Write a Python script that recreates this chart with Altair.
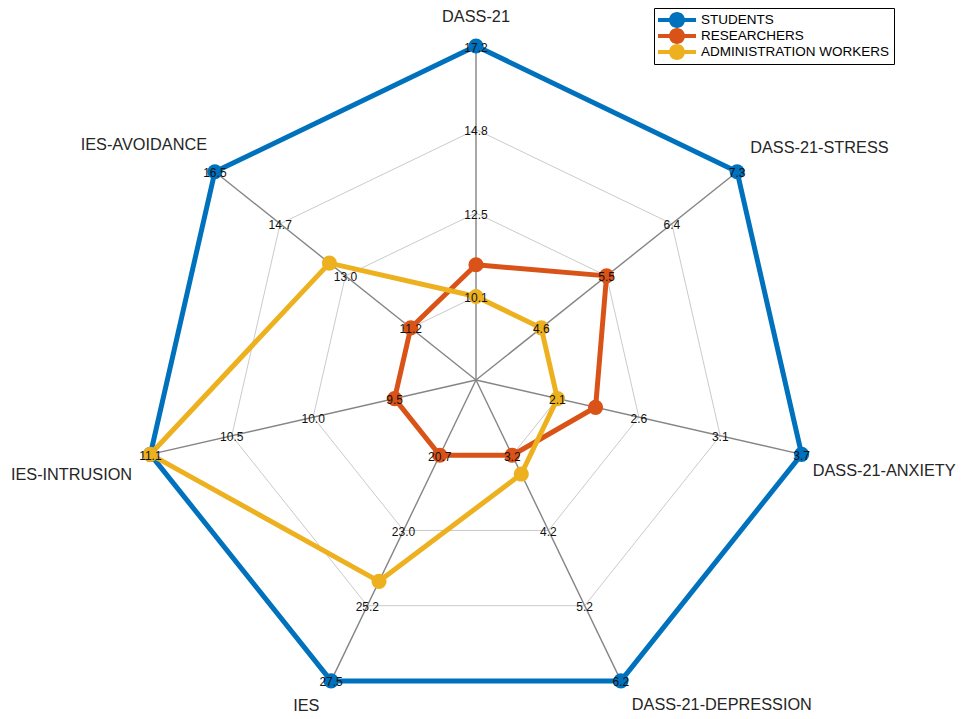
import math
import altair as alt
import pandas as pd

# ---------------- data ----------------
axis_names = ["DASS-21", "DASS-21-STRESS", "DASS-21-ANXIETY", "DASS-21-DEPRESSION",
              "IES", "IES-INTRUSION", "IES-AVOIDANCE"]
groups = ["STUDENTS", "RESEARCHERS", "ADMINISTRATION WORKERS"]
students = [17.2, 7.3, 3.7, 6.2, 27.5, 11.1, 16.5]
researchers = [11.0, 5.5, 2.35, 3.2, 20.7, 9.5, 11.2]
admin = [10.1, 4.6, 2.1, 3.45, 24.5, 11.1, 13.4]
tick_labels = [
    ["10.1", "12.5", "14.8", "17.2"],
    ["4.6", "5.5", "6.4", "7.3"],
    ["2.1", "2.6", "3.1", "3.7"],
    ["3.2", "4.2", "5.2", "6.2"],
    ["20.7", "23.0", "25.2", "27.5"],
    ["9.5", "10.0", "10.5", "11.1"],
    ["11.2", "13.0", "14.7", "16.5"],
]
colors = ["#0072BD", "#D95319", "#EDB120"]

# ---------------- layout / style ----------------
W, H = 949, 711
CX, CY, R = 468, 372, 334
# radial factor and vertical pixel nudge (positive = down) of each axis title
label_radius = [1.05, 1.05, 1.034, 1.075, 1.08, 1.056, 1.03]
label_nudge = [-12, -13, 14, 2, 1, 17, -21]

xdom = [-CX / R, (W - CX) / R]
ydom = [-(H - CY) / R, CY / R]
n = len(axis_names)
ang = [math.pi / 2 - 2 * math.pi * k / n for k in range(n)]
series = [students, researchers, admin]
amin = [min(s[k] for s in series) for k in range(n)]
amax = [max(s[k] for s in series) for k in range(n)]


def rad(k, v):
    return 0.25 + 0.75 * (v - amin[k]) / (amax[k] - amin[k])


xs = alt.Scale(domain=xdom, nice=False, zero=False)
ys = alt.Scale(domain=ydom, nice=False, zero=False)
X = lambda f="x": alt.X(f"{f}:Q", scale=xs, axis=None)
Y = lambda f="y": alt.Y(f"{f}:Q", scale=ys, axis=None)

# spokes
spokes = pd.DataFrame({"x": [0.0] * n, "y": [0.0] * n,
                       "x2": [math.cos(a) for a in ang], "y2": [math.sin(a) for a in ang]})
# rings
ring_rows = []
for j in range(1, 5):
    for i in range(n + 1):
        k = i % n
        ring_rows.append({"ring": j, "o": i, "x": j / 4 * math.cos(ang[k]), "y": j / 4 * math.sin(ang[k])})
rings = pd.DataFrame(ring_rows)

# series
srows, prows = [], []
for gi, (g, vals) in enumerate(zip(groups, series)):
    for i in range(n + 1):
        k = i % n
        r = rad(k, vals[k])
        row = {"group": g, "gi": gi, "o": i, "x": r * math.cos(ang[k]), "y": r * math.sin(ang[k])}
        srows.append(row)
        if i < n:
            prows.append(row)
sdf = pd.DataFrame(srows)
pdf = pd.DataFrame(prows)

# tick labels
trows = []
for k in range(n):
    for j in range(1, 5):
        trows.append({"t": tick_labels[k][j - 1], "x": j / 4 * math.cos(ang[k]), "y": j / 4 * math.sin(ang[k])})
tdf = pd.DataFrame(trows)

# axis labels
lrows = []
for k in range(n):
    c, s = math.cos(ang[k]), math.sin(ang[k])
    if k == 0:
        al = "center"
    elif c > 0:
        al = "left"
    else:
        al = "right"
    f = label_radius[k]
    lrows.append({"name": axis_names[k], "x": f * c, "y": f * s - label_nudge[k] / R, "al": al})
ldf = pd.DataFrame(lrows)

FONT = "Liberation Sans"

spoke_l = alt.Chart(spokes).mark_rule(color="#858585", strokeWidth=1.4).encode(
    x=X(), y=Y(), x2="x2:Q", y2="y2:Q")
ring_l = alt.Chart(rings).mark_line(color="#c4c4c4", strokeWidth=0.9).encode(
    x=X(), y=Y(), detail="ring:N", order="o:Q")

cscale = alt.Scale(domain=groups, range=colors)
legend_path = ("M-2.375,-0.25H2.375V0.25H-2.375Z "
               "M1,0A1,1 0 1,1 -1,0A1,1 0 1,1 1,0Z")
legend = alt.Legend(title=None, orient="none", legendX=646, legendY=0,
                    symbolType=legend_path, symbolSize=256, symbolOffset=11,
                    symbolStrokeWidth=0, symbolOpacity=1,
                    labelFont=FONT, labelFontSize=13.5, labelColor="black",
                    labelOffset=16, labelLimit=500,
                    strokeColor="black", fillColor="white", padding=4, rowPadding=0)

line_l = alt.Chart(sdf).mark_line(strokeWidth=5, strokeJoin="round").encode(
    x=X(), y=Y(), order="o:Q",
    color=alt.Color("group:N", scale=cscale, legend=legend),
    detail="gi:N")
pt_l = alt.Chart(pdf).mark_circle(size=230, opacity=1).encode(
    x=X(), y=Y(),
    color=alt.Color("group:N", scale=cscale, legend=legend),
    order="gi:Q")
tick_l = alt.Chart(tdf).mark_text(font=FONT, fontSize=12, color="#111111", baseline="middle",
                                   align="center", dy=1.5).encode(x=X(), y=Y(), text="t:N")

lab_layers = []
for al in ["center", "left", "right"]:
    sub = ldf[ldf["al"] == al]
    lab_layers.append(alt.Chart(sub).mark_text(font=FONT, fontSize=16.3, color="#262626",
                                               align=al, baseline="middle").encode(
        x=X(), y=Y(), text="name:N"))

chart = alt.layer(ring_l, spoke_l, line_l, pt_l, tick_l, *lab_layers).properties(
    width=W, height=H, padding=0, autosize=alt.AutoSizeParams(type="none")
).configure_view(stroke=None)

chart.save("out.html", embed_options={"renderer": "svg", "actions": False})
